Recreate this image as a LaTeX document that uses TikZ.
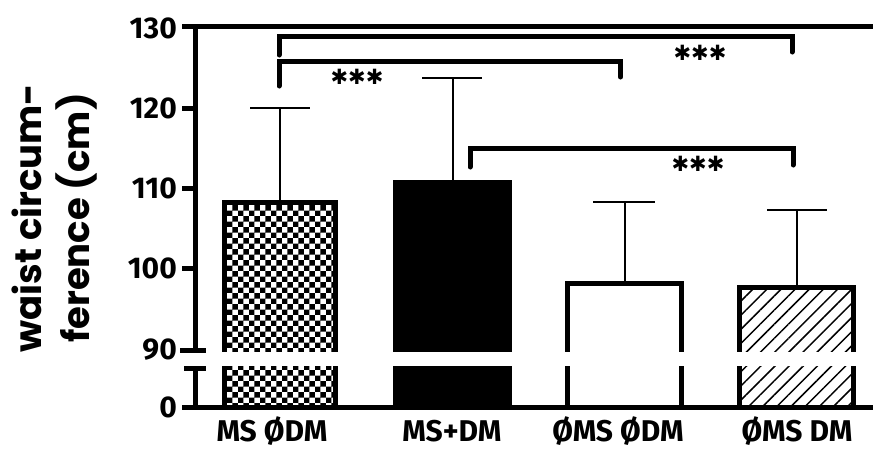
\documentclass[tikz,border=0pt]{standalone}
\usepackage{fontspec}
\setmainfont{Fira Sans}
\newfontfamily\titlefont{Poppins}
\newfontfamily\symfont{DejaVu Sans}
\usetikzlibrary{patterns,patterns.meta}
\begin{document}
\begin{tikzpicture}[x=1pt,y=-1pt,
  axis/.style={line width=5pt},
  errbar/.style={line width=2pt},
  brk/.style={line width=5pt, line cap=round, line join=miter},
  barframe/.style={line width=5pt},
  ticklbl/.style={font=\bfseries\fontsize{30}{32}\selectfont, anchor=east, inner sep=0pt},
  catlbl/.style={font=\bfseries\fontsize{30}{32}\selectfont, inner sep=0pt},
  stars/.style={font=\symfont\bfseries\fontsize{21}{22}\selectfont, inner sep=0pt},
  ttl/.style={font=\titlefont\bfseries\fontsize{37}{40}\selectfont, rotate=90, anchor=base, inner sep=0pt},
]
\useasboundingbox (0,0) rectangle (873,448);
% bars
\draw[barframe, pattern=checkerboard] (224.5,202.5) rectangle (335.5,407);
\fill (393,180) rectangle (512,407);
\draw[barframe, fill=white] (567.5,283.5) rectangle (681.5,407);
\draw[barframe, pattern={Lines[angle=45,distance=10pt,line width=1.5pt]}] (739.5,287.5) rectangle (853.5,407);
% error bars
\draw[errbar] (280,200) -- (280,108) (250,108) -- (310,108);
\draw[errbar] (452.5,180) -- (452.5,78) (422,78) -- (482,78);
\draw[errbar] (624.5,281) -- (624.5,202) (593,202) -- (655,202);
\draw[errbar] (796.5,285) -- (796.5,210) (767,210) -- (827,210);
% break band
\fill[white] (208,351.5) rectangle (873,366);
% axes
\draw[axis] (182,26.5) -- (873,26.5);
\draw[axis] (195,24) -- (195,350);
\draw[axis] (182,108) -- (195,108);
\draw[axis] (182,188) -- (195,188);
\draw[axis] (182,268) -- (195,268);
\draw[axis] (180,350) -- (206,350);
\draw[axis] (184,368) -- (206,368);
\draw[axis] (195,368) -- (195,407);
\draw[axis] (182,407) -- (873,407);
% tick labels
\node[ticklbl] (l130) at (177,28) {130};
\node[ticklbl] (l120) at (177,108) {120};
\node[ticklbl] (l110) at (177,188) {110};
\node[ticklbl] (l100) at (177,268) {100};
\node[ticklbl] (l90) at (177,350) {90};
\node[ticklbl] (l0) at (177,407) {0};
% category labels
\node[catlbl] (c1) at (272,431) {MS ØDM};
\node[catlbl] (c2) at (452,431) {MS+DM};
\node[catlbl] (c3) at (618,431) {ØMS ØDM};
\node[catlbl] (c4) at (797,431) {ØMS DM};
% brackets
\coordinate (a1) at (279,55);   \coordinate (a2) at (279,36.5);
\coordinate (a3) at (792,36.5); \coordinate (a4) at (792,52);
\coordinate (b1) at (279,86);   \coordinate (b2) at (279,61.5);
\coordinate (b3) at (620.5,61.5); \coordinate (b4) at (620.5,77);
\coordinate (d1) at (470,167);  \coordinate (d2) at (470,148.5);
\coordinate (d3) at (793,148.5); \coordinate (d4) at (793,165);
\draw[brk] (a1) -- (a2) -- (a3) -- (a4);
\draw[brk] (b1) -- (b2) -- (b3) -- (b4);
\draw[brk] (d1) -- (d2) -- (d3) -- (d4);
\node[stars] (s1) at (700,53) {✱✱✱};
\node[stars] (s2) at (357,77) {✱✱✱};
\node[stars] (s3) at (698,164) {✱✱✱};
% title
\node[ttl] (t1) at (41,218) {waist circum-};
\node[ttl] (t2) at (89,218) {ference (cm)};
\end{tikzpicture}
\end{document}
